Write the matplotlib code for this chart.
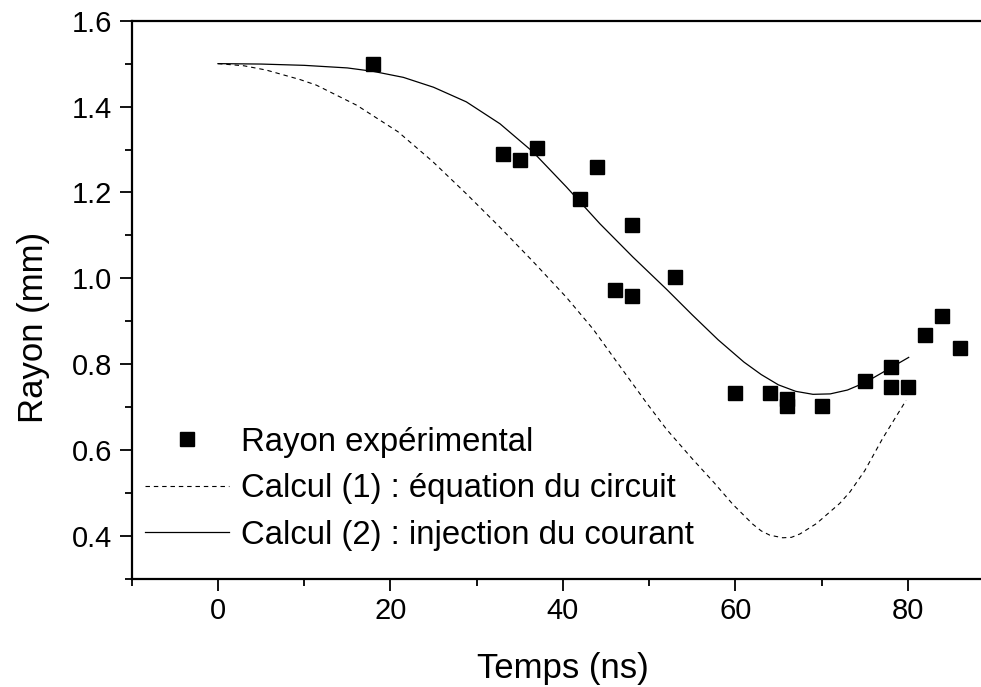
import numpy as np
import matplotlib
matplotlib.use("Agg")
import matplotlib.pyplot as plt
from matplotlib.ticker import MultipleLocator

plt.rcParams['font.family'] = ['Liberation Sans', 'DejaVu Sans']

t_exp = [18, 33, 35, 37, 42, 44, 46, 48, 48, 53, 60, 64, 66, 66, 70, 75, 78, 78, 80, 82, 84, 86]
r_exp = [1.500, 1.289, 1.275, 1.304, 1.184, 1.259, 0.973, 1.124, 0.958, 1.004,
         0.733, 0.733, 0.719, 0.702, 0.702, 0.762, 0.793, 0.748, 0.748, 0.868, 0.912, 0.838]

# calcul (1) : equation du circuit (dashed)
t_calc1 = [0, 3, 5.6, 9.5, 11.4, 16.1, 20.9, 24.9, 28.8, 32.7, 36.5, 40.4, 43.5, 45.8, 49.7,
           52.0, 55, 57.5, 59.7, 62.0, 63, 64, 65.5, 66.5, 67.5, 69.4, 72.1, 73.3, 75, 77.1, 79.8]
r_calc1 = [1.500, 1.495, 1.485, 1.463, 1.450, 1.403, 1.341, 1.272, 1.197, 1.119, 1.040, 0.956,
           0.882, 0.818, 0.710, 0.649, 0.580, 0.525, 0.474, 0.428, 0.412, 0.402, 0.396, 0.397,
           0.405, 0.429, 0.476, 0.503, 0.552, 0.628, 0.716]

# calcul (2) : injection du courant (solid)
t_calc2 = [0, 5, 10, 15, 18, 21.5, 25, 28.8, 32.7, 36.5, 40.4, 44.3, 48.1, 52, 55, 58,
           61, 63, 65, 67, 69, 71, 73, 75, 77, 80.1]
r_calc2 = [1.500, 1.499, 1.496, 1.490, 1.482, 1.468, 1.445, 1.411, 1.360, 1.295, 1.213, 1.127,
           1.050, 0.975, 0.915, 0.857, 0.805, 0.776, 0.752, 0.737, 0.730, 0.731, 0.740,
           0.757, 0.780, 0.816]

fig = plt.figure(figsize=(9.81, 6.87), dpi=100)
# axes runs to x=90, its right part falls outside the picture like the original crop
ax = fig.add_axes([0.1343, 0.1572, 0.879, 0.8127])

ax.plot(t_exp, r_exp, 's', color='black', markersize=10.3, label='Rayon expérimental')
ax.plot(t_calc1, r_calc1, color='black', lw=0.8, dashes=(4, 3.5),
        label='Calcul (1) : équation du circuit')
ax.plot(t_calc2, r_calc2, color='black', lw=0.9, label='Calcul (2) : injection du courant')

ax.set_xlim(-10, 90)
ax.set_ylim(0.3, 1.6)
ax.xaxis.set_minor_locator(MultipleLocator(10))
ax.yaxis.set_minor_locator(MultipleLocator(0.1))
ax.set_xticks([0, 20, 40, 60, 80])
ax.set_yticks([0.4, 0.6, 0.8, 1.0, 1.2, 1.4, 1.6])
ax.set_yticklabels(['0.4', '0.6', '0.8', '1.0', '1.2', '1.4', '1.6'])

ax.spines['right'].set_visible(False)
for s in ['left', 'bottom', 'top']:
    ax.spines[s].set_linewidth(1.6)
ax.tick_params(which='major', direction='out', length=8.6, width=1.3, labelsize=21)
ax.tick_params(which='minor', direction='out', length=5, width=1.3)
ax.tick_params(axis='x', which='major', pad=4.5)
ax.tick_params(axis='y', which='major', pad=5.5)
ax.tick_params(top=False, right=False, which='both')

ax.set_xlabel('Temps (ns)', fontsize=25, labelpad=19)
ax.set_ylabel('Rayon (mm)', fontsize=25)
ax.yaxis.set_label_coords(-0.095, 0.45)

ax.legend(loc='upper left', bbox_to_anchor=(0.0154, 0.273), frameon=False, fontsize=23.7,
          borderpad=0, borderaxespad=0, handlelength=2.55, handletextpad=0.36,
          labelspacing=0.47, numpoints=1)

fig.savefig('out.png', dpi=100)
